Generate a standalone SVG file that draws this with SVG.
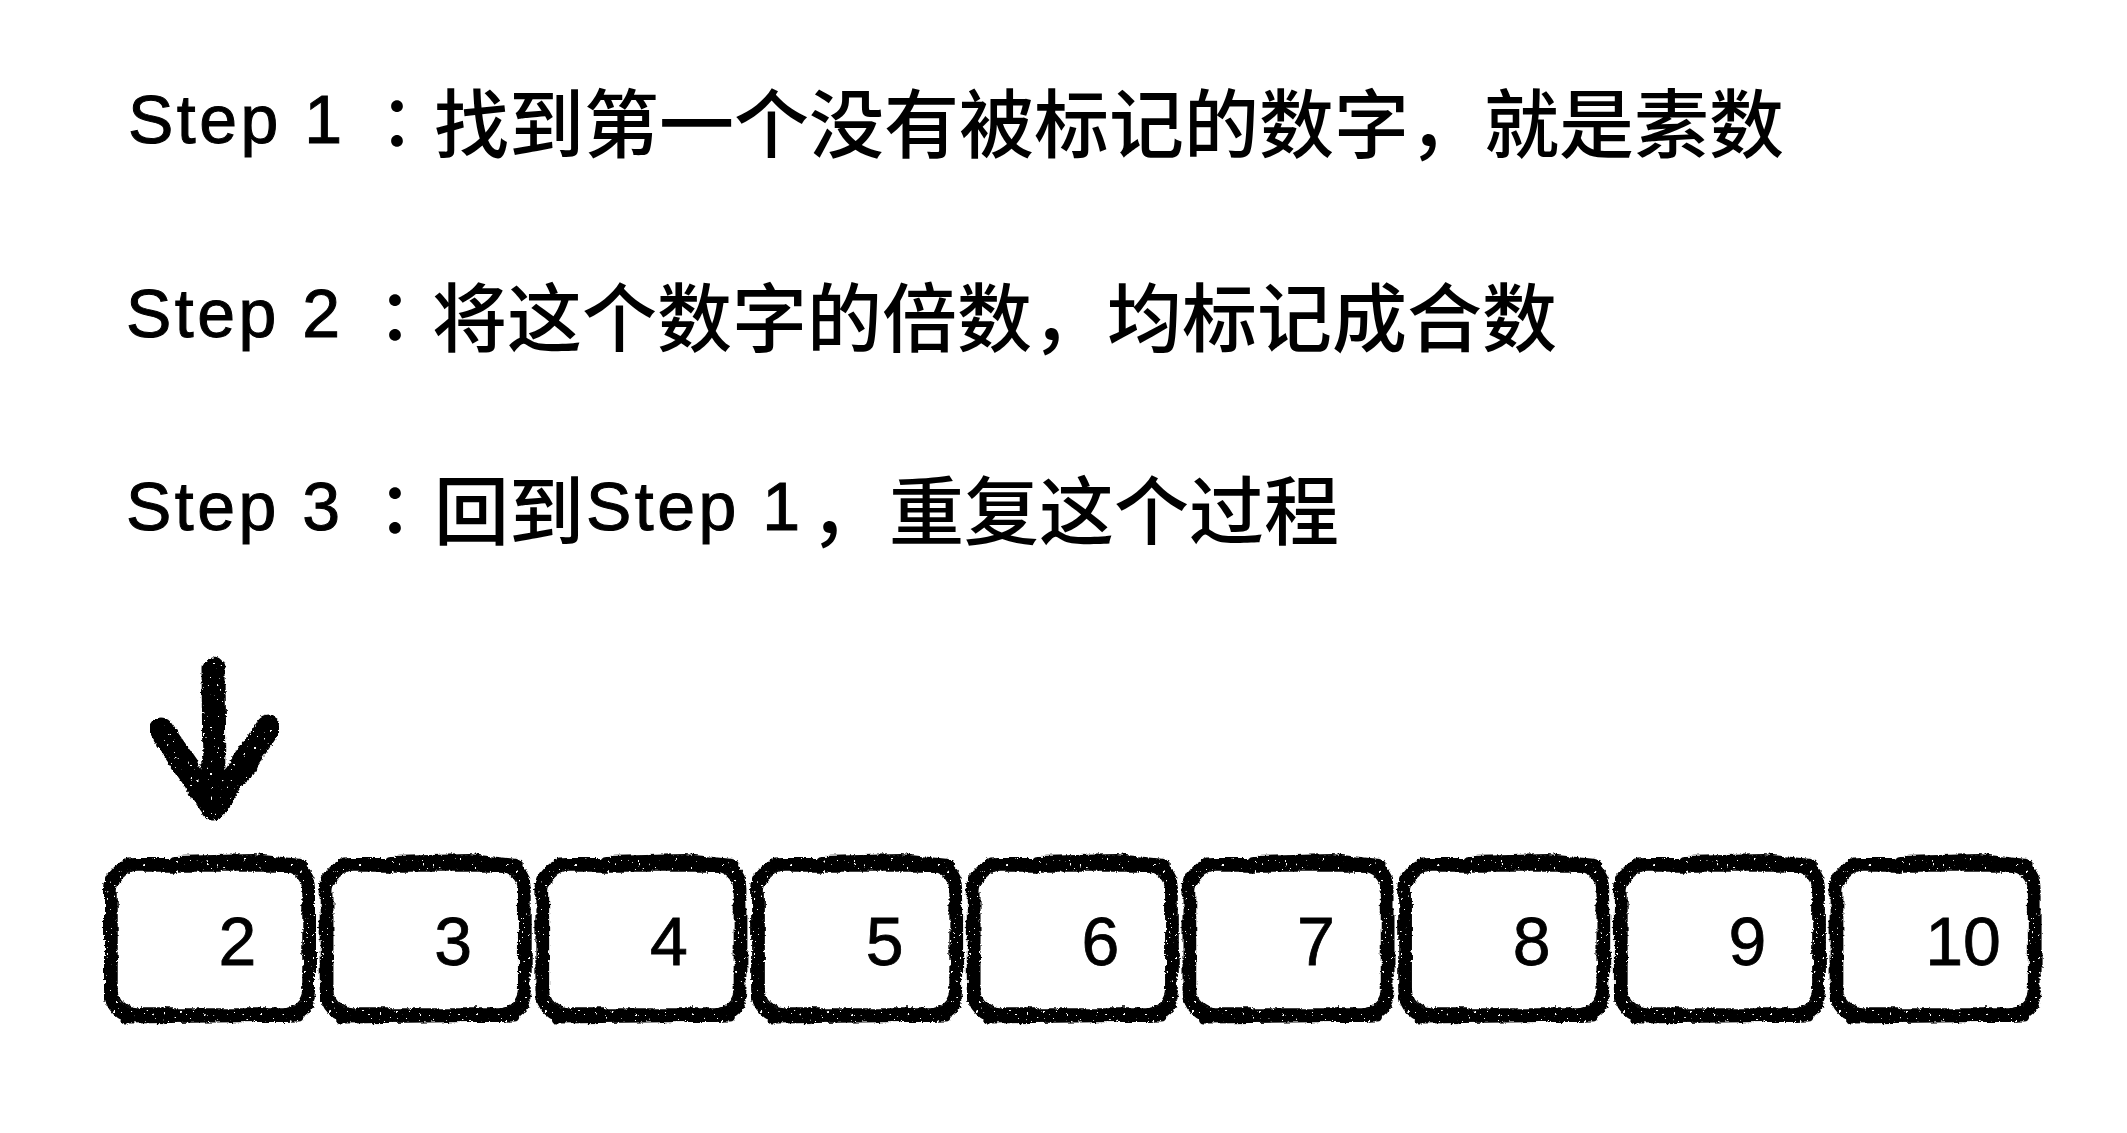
<svg xmlns="http://www.w3.org/2000/svg" xmlns:xlink="http://www.w3.org/1999/xlink" width="2127" height="1133" viewBox="0 0 2127 1133">
<style>
.lat{font-family:"Liberation Sans",Arial,sans-serif;font-size:68px;letter-spacing:3.5px;fill:#000;stroke:#000;stroke-width:1px}
.cjk{font-family:"Noto Sans CJK SC","Noto Sans CJK TC",sans-serif;font-size:75px;font-weight:500;fill:#000}
.colon{font-family:"Noto Sans CJK TC","Noto Sans CJK SC",sans-serif;font-size:70px;font-weight:500;fill:#000}
.num{font-family:"Liberation Sans",Arial,sans-serif;font-size:68px;text-anchor:middle;fill:#000;stroke:#000;stroke-width:0.8px}
.brush{fill:none;stroke:#000;stroke-linecap:round;stroke-linejoin:round}
</style>
<defs>
<filter id="rough" x="-10%" y="-10%" width="120%" height="120%">
<feTurbulence type="fractalNoise" baseFrequency="0.05" numOctaves="2" seed="2" result="warp"/>
<feDisplacementMap in="SourceGraphic" in2="warp" scale="6" xChannelSelector="R" yChannelSelector="G" result="d"/>
<feTurbulence type="fractalNoise" baseFrequency="0.5" numOctaves="1" seed="5" result="fine"/>
<feDisplacementMap in="d" in2="fine" scale="3" xChannelSelector="R" yChannelSelector="G" result="d2"/>
<feTurbulence type="fractalNoise" baseFrequency="0.3" numOctaves="2" seed="9" result="sp"/>
<feColorMatrix in="sp" type="matrix" values="0 0 0 0 0  0 0 0 0 0  0 0 0 0 0  30 0 0 0 -7" result="mask"/>
<feComposite in="d2" in2="mask" operator="in"/>
</filter>
<g id="box">
<g filter="url(#rough)">
<rect x="9" y="9" width="196" height="148" rx="24" fill="#fff" stroke="#000" stroke-width="10"/>
<rect x="3" y="3" width="208" height="160" rx="29" fill="none" stroke="#000" stroke-width="4"/>
<rect x="14" y="14" width="186" height="138" rx="20" fill="none" stroke="#000" stroke-width="1.5"/>
<path class="brush" d="M72 6 L150 4 L198 9" stroke-width="14"/>
<path class="brush" d="M20 6 L60 4" stroke-width="3"/>
<path class="brush" d="M22 162 L110 161 L196 160" stroke-width="9"/>
<path class="brush" d="M207 30 L209 140" stroke-width="6"/>
<path class="brush" d="M5 35 L5 135" stroke-width="5"/>
</g>
</g>
</defs>

<g id="step1">
<text y="143"><tspan class="lat" x="128">Step 1</tspan><tspan class="colon" x="362" y="150">：</tspan><tspan class="cjk" x="434" y="152">找到第一个没有被标记的数字，就是素数</tspan></text>
</g>
<g id="step2">
<text y="337"><tspan class="lat" x="126">Step 2</tspan><tspan class="colon" x="360" y="344">：</tspan><tspan class="cjk" x="432" y="346">将这个数字的倍数，均标记成合数</tspan></text>
</g>
<g id="step3">
<text y="530"><tspan class="lat" x="126">Step 3</tspan><tspan class="colon" x="360" y="537">：</tspan><tspan class="cjk" x="434" y="539">回到</tspan><tspan class="lat" x="586" y="530">Step 1</tspan><tspan class="cjk" x="810" y="539">，</tspan><tspan class="cjk" x="889" y="539">重复这个过程</tspan></text>
</g>

<g id="connectors">
<g id="pointer-arrow" filter="url(#rough)">
<path class="brush" d="M213 668 L214 780" stroke-width="23"/>
<path class="brush" d="M161 730 L214 807 L268 728" stroke-width="25"/>
</g>
</g>

<g id="n2" transform="translate(103 857)"><use xlink:href="#box" href="#box"/><text class="num" x="134.5" y="108">2</text></g>
<g id="n3" transform="translate(318.7 857)"><use xlink:href="#box" href="#box"/><text class="num" x="134.5" y="108">3</text></g>
<g id="n4" transform="translate(534.4 857)"><use xlink:href="#box" href="#box"/><text class="num" x="134.5" y="108">4</text></g>
<g id="n5" transform="translate(750.1 857)"><use xlink:href="#box" href="#box"/><text class="num" x="134.5" y="108">5</text></g>
<g id="n6" transform="translate(965.8 857)"><use xlink:href="#box" href="#box"/><text class="num" x="134.5" y="108">6</text></g>
<g id="n7" transform="translate(1181.5 857)"><use xlink:href="#box" href="#box"/><text class="num" x="134.5" y="108">7</text></g>
<g id="n8" transform="translate(1397.2 857)"><use xlink:href="#box" href="#box"/><text class="num" x="134.5" y="108">8</text></g>
<g id="n9" transform="translate(1612.9 857)"><use xlink:href="#box" href="#box"/><text class="num" x="134.5" y="108">9</text></g>
<g id="n10" transform="translate(1828.6 857)"><use xlink:href="#box" href="#box"/><text class="num" x="134.5" y="108">10</text></g>
</svg>
